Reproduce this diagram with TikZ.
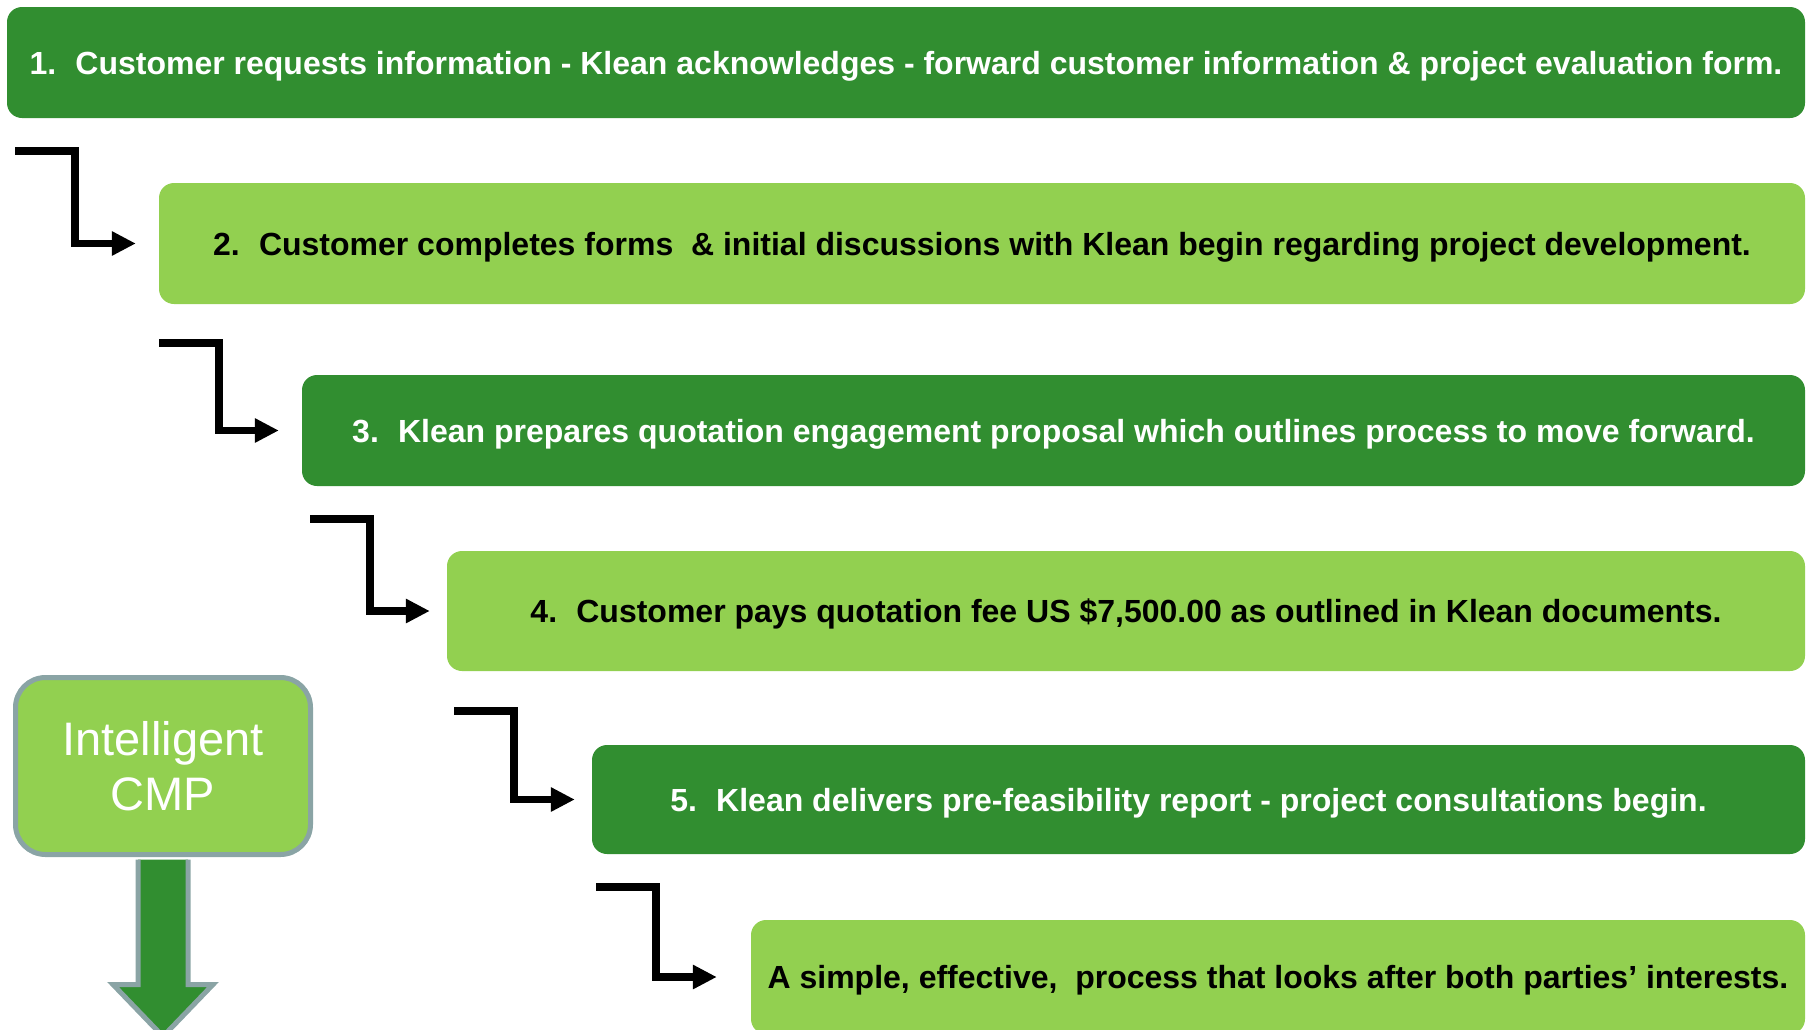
\documentclass[tikz,border=0pt]{standalone}
\usepackage{fontspec}
\setmainfont{Liberation Sans}
\usetikzlibrary{arrows.meta,calc}

\definecolor{kdark}{RGB}{49,142,48}
\definecolor{klight}{RGB}{146,208,80}
\definecolor{kedge}{RGB}{138,164,165}

\begin{document}
\begin{tikzpicture}[x=1pt,y=-1pt,
  stepdark/.style={rectangle,rounded corners=15pt,fill=kdark,text=white,inner sep=0pt,
    text height=23pt,text depth=0pt,font=\fontsize{32}{38}\selectfont\bfseries},
  steplight/.style={stepdark,fill=klight,text=black},
  flow/.style={line width=7.5pt,-{Triangle[length=24pt,width=23pt]}}]
  \useasboundingbox (0,0) rectangle (1810,1029);

  % the five steps and the closing line, stepping to the right
  \node[stepdark,minimum width=1798pt,minimum height=111pt] (b1) at (906,62.5)
    {1.\hspace{0.6em}Customer requests information - Klean acknowledges - forward customer information \& project evaluation form.};
  \node[steplight,minimum width=1646pt,minimum height=121pt] (b2) at (982,243.5)
    {2.\hspace{0.6em}Customer completes forms\ \ \& initial discussions with Klean begin regarding project development.};
  \node[stepdark,minimum width=1503pt,minimum height=111pt] (b3) at (1053.5,430.5)
    {3.\hspace{0.6em}Klean prepares quotation engagement proposal which outlines process to move forward.};
  \node[steplight,minimum width=1358pt,minimum height=120pt] (b4) at (1126,611)
    {4.\hspace{0.6em}Customer pays quotation fee US \$7,500.00 as outlined in Klean documents.};
  \node[stepdark,minimum width=1213pt,minimum height=109pt] (b5) at (1198.5,799.5)
    {5.\hspace{0.6em}Klean delivers pre-feasibility report - project consultations begin.\rule{20pt}{0pt}};
  \node[steplight,minimum width=1054pt,minimum height=114pt] (b6) at (1278,977)
    {A simple, effective,\ \ process that looks after both parties’ interests.};

  % elbow arrows between the steps
  \coordinate (s1) at (15,151);
  \coordinate (s2) at (159,343);
  \coordinate (s3) at (310,519);
  \coordinate (s4) at (454,711);
  \coordinate (s5) at (596,887);
  \foreach \s/\t/\g in {s1/b2/23pt,s2/b3/23pt,s3/b4/17pt,s4/b5/17pt,s5/b6/34pt}
    \draw[flow,shorten >=\g] (\s) -- ++(60,0) |- (\t.west);

  % Intelligent CMP label with its block arrow
  \node[rectangle,rounded corners=30pt,fill=klight,draw=kedge,line width=5pt,
    minimum width=295pt,minimum height=177pt,text=white,align=center,
    font=\fontsize{47}{55}\selectfont] (cmp) at (163,766) {Intelligent\\CMP};
  \path[fill=kdark,draw=kedge,line width=5pt,line join=miter]
    ($(cmp.south)+(-25,2.5)$) -- ++(0,125) -- ++(-25,0) -- ++(50,52)
    -- ++(50,-52) -- ++(-25,0) -- ++(0,-125);
\end{tikzpicture}
\end{document}
